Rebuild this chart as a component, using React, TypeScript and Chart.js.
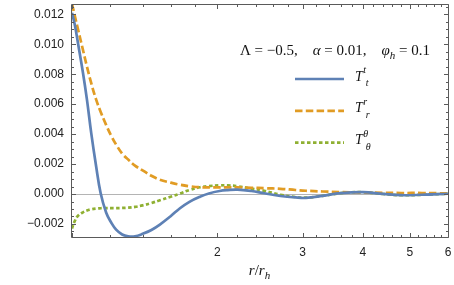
import React, { useEffect, useRef } from 'react';
import { Chart, registerables } from 'chart.js';

Chart.register(...registerables);

// ---- data ----
const rValues = [1.0, 1.0134, 1.029, 1.054, 1.074, 1.096, 1.122, 1.146, 1.177, 1.205, 1.234, 1.27, 1.307, 1.35, 1.4, 1.46, 1.52, 1.6, 1.673, 1.75, 1.84, 1.92, 2.02, 2.1, 2.2, 2.35, 2.5, 2.7, 2.9, 3.05, 3.3, 3.6, 4.0, 4.4, 4.8, 5.3, 6.0];
const ttValues = [0.0121, 0.0113, 0.01007, 0.00807, 0.00629, 0.00407, 0.00184, 0.00007, -0.00125, -0.0019, -0.00238, -0.0027, -0.00282, -0.00282, -0.00266, -0.0024, -0.00204, -0.00148, -0.00095, -0.00052, -0.00018, 0.00004, 0.0002, 0.00026, 0.00029, 0.0002, 0.00005, -0.00013, -0.00023, -0.00026, -0.00012, 0.00006, 0.00013, 0.00001, -0.00008, -0.00005, 0.00002];
const trrValues = [0.0127, 0.0119, 0.011, 0.0096, 0.0085, 0.0074, 0.0063, 0.0055, 0.0046, 0.0039, 0.0033, 0.0027, 0.0023, 0.0019, 0.00158, 0.00122, 0.00095, 0.00076, 0.00062, 0.00052, 0.00045, 0.00044, 0.00044, 0.00044, 0.00044, 0.00042, 0.00039, 0.00035, 0.00027, 0.00022, 0.00017, 0.00013, 0.0001, 0.00008, 0.00007, 0.00007, 0.00004];
const tthValues = [-0.0023, -0.0018, -0.00145, -0.00122, -0.0011, -0.00102, -0.00097, -0.00095, -0.00094, -0.00094, -0.00094, -0.00093, -0.00091, -0.00086, -0.00076, -0.0006, -0.00042, -0.00018, 0.00003, 0.00027, 0.00045, 0.00053, 0.00058, 0.00058, 0.00052, 0.00036, 0.00022, -0.00005, -0.0002, -0.00024, -0.00012, 0.00006, 0.00012, 0.0, -0.00008, -0.00005, 0.00002];

const seriesIndices = ['t', 'r', 'θ'];
const seriesColors = ['#5E81B5', '#E19C24', '#8FB032'];
const seriesDashes: number[][] = [[], [7.5, 3.3], [3.5, 2.5]];

const xTickLabels = [2, 3, 4, 5, 6];
const yTickValues = [-0.002, 0, 0.002, 0.004, 0.006, 0.008, 0.01, 0.012];
const X_MIN = 1;
const X_MAX = 6;
const Y_MIN = -0.00287;
const Y_MAX = 0.01269;

const GAP = '\u2002\u2002';
const paramParts = [
  { t: 'Λ', it: false },
  { t: ' = −0.5,' + GAP, it: false },
  { t: 'α', it: true },
  { t: ' = 0.01,' + GAP, it: false },
  { t: 'φ', it: true },
  { t: 'h', it: true, sub: true },
  { t: ' = 0.1', it: false },
];
const axisTitleParts = [
  { t: 'r', it: true },
  { t: '/', it: false },
  { t: 'r', it: true },
  { t: 'h', it: true, sub: true },
];

const FRAME = '#5a5a5a';
const SERIF = '"Liberation Serif", "DejaVu Serif", serif';

type Part = { t: string; it: boolean; sub?: boolean };

function drawParts(ctx: CanvasRenderingContext2D, parts: Part[], cx: number, y: number, size: number) {
  const fontFor = (p: Part) => `${p.it ? 'italic ' : ''}${p.sub ? Math.round(size * 0.7) : size}px ${SERIF}`;
  let total = 0;
  const widths = parts.map((p) => {
    ctx.font = fontFor(p);
    const w = ctx.measureText(p.t).width;
    total += w;
    return w;
  });
  let x = cx - total / 2;
  ctx.textAlign = 'left';
  ctx.textBaseline = 'alphabetic';
  parts.forEach((p, i) => {
    ctx.font = fontFor(p);
    ctx.fillText(p.t, x, y + (p.sub ? size * 0.25 : 0));
    x += widths[i];
  });
}

const framePlugin = {
  id: 'framePlugin',
  afterDraw(chart: any) {
    const { ctx, chartArea: a, scales } = chart;
    const xs = scales.x;
    const ys = scales.y;
    ctx.save();
    ctx.strokeStyle = FRAME;
    ctx.lineWidth = 1;
    const L = a.left - 0.5;
    const R = a.right + 0.5;
    const T = a.top + 0.5;
    const B = a.bottom + 0.5;
    ctx.beginPath();
    ctx.rect(L, T, R - L, B - T);
    ctx.stroke();
    ctx.beginPath();
    for (let k = 0; k <= 25; k++) {
      const v = X_MIN + k * 0.2;
      const major = Math.abs(v - Math.round(v)) < 1e-6;
      const len = major ? 4.5 : 2.5;
      const px = Math.round(xs.getPixelForValue(v)) + 0.5;
      ctx.moveTo(px, B);
      ctx.lineTo(px, B - len);
      ctx.moveTo(px, T);
      ctx.lineTo(px, T + len);
    }
    for (let k = -5; k <= 25; k++) {
      const v = k * 0.0005;
      if (v < Y_MIN || v > Y_MAX) continue;
      const major = k % 4 === 0;
      const len = major ? 4.5 : 2.5;
      const py = Math.round(ys.getPixelForValue(v)) + 0.5;
      ctx.moveTo(L, py);
      ctx.lineTo(L + len, py);
      ctx.moveTo(R, py);
      ctx.lineTo(R - len, py);
    }
    ctx.stroke();

    ctx.fillStyle = '#111';
    drawParts(ctx, paramParts, 335, 55, 15);

    const legendY = [79, 110.8, 142.6];
    chart.data.datasets.forEach((ds: any, i: number) => {
      const y = legendY[i];
      ctx.strokeStyle = ds.borderColor;
      ctx.lineWidth = ds.borderWidth;
      ctx.setLineDash(ds.borderDash || []);
      ctx.beginPath();
      ctx.moveTo(295, y);
      ctx.lineTo(344, y);
      ctx.stroke();
      ctx.setLineDash([]);
      ctx.fillStyle = '#111';
      ctx.textAlign = 'left';
      ctx.textBaseline = 'alphabetic';
      ctx.font = `italic 14px ${SERIF}`;
      const tx = 355;
      const ty = y + 1.5;
      ctx.fillText('T', tx, ty);
      const tw = ctx.measureText('T').width;
      ctx.font = `italic 10px ${SERIF}`;
      ctx.fillText(seriesIndices[i], tx + tw + 0.5, ty - 7.5);
      ctx.fillText(seriesIndices[i], tx + tw + 3, ty + 5.5);
    });

    ctx.fillStyle = '#111';
    drawParts(ctx, axisTitleParts, 259.5, 275, 15);
    ctx.restore();
  },
};

export default function App() {
  const ref = useRef<HTMLCanvasElement>(null);
  useEffect(() => {
    const makeData = (vals: number[]) => rValues.map((r, i) => ({ x: r, y: vals[i] }));
    const allSeries = [ttValues, trrValues, tthValues];
    const chart = new Chart(ref.current as HTMLCanvasElement, {
      type: 'line',
      data: {
        datasets: allSeries.map((vals, i) => ({
          label: 'T' + seriesIndices[i],
          data: makeData(vals),
          borderColor: seriesColors[i],
          borderWidth: 2.7,
          borderDash: seriesDashes[i],
          borderCapStyle: 'butt',
          pointRadius: 0,
          fill: false,
          tension: 0.4,
          clip: 0,
        })),
      } as any,
      options: {
        animation: false,
        responsive: false,
        devicePixelRatio: 1,
        layout: { padding: { top: 4, right: 6, left: 0, bottom: 0 } },
        plugins: { legend: { display: false }, tooltip: { enabled: false }, title: { display: false } },
        scales: {
          x: {
            type: 'logarithmic',
            min: X_MIN,
            max: X_MAX,
            grid: { display: false },
            border: { display: false },
            ticks: {
              font: { family: '"Liberation Sans", Arial, sans-serif', size: 12 },
              color: '#222',
              padding: 0,
              maxRotation: 0,
              autoSkip: false,
              callback: (v: any) => String(v),
            },
            afterBuildTicks: (scale: any) => {
              scale.ticks = xTickLabels.map((v) => ({ value: v }));
            },
            afterFit: (scale: any) => {
              scale.height = 48;
              scale.paddingLeft = 0;
              scale.paddingRight = 0;
            },
          },
          y: {
            type: 'linear',
            min: Y_MIN,
            max: Y_MAX,
            grid: {
              display: true,
              drawTicks: false,
              color: (c: any) => (c.tick && Math.abs(c.tick.value) < 1e-9 ? '#b4b4b4' : 'rgba(0,0,0,0)'),
              lineWidth: 1,
            },
            border: { display: false },
            ticks: {
              font: { family: '"Liberation Sans", Arial, sans-serif', size: 12 },
              color: '#222',
              padding: 8,
              autoSkip: false,
              callback: (v: any) => {
                const n = Number(v);
                const s = Math.abs(n).toFixed(3);
                return n < -1e-9 ? '\u2212' + s : s;
              },
            },
            afterBuildTicks: (scale: any) => {
              scale.ticks = yTickValues.map((v) => ({ value: v }));
            },
            afterFit: (scale: any) => {
              scale.width = 72;
              scale.paddingTop = 0;
              scale.paddingBottom = 0;
            },
          },
        },
      } as any,
      plugins: [framePlugin],
    });
    return () => chart.destroy();
  }, []);
  return (
    <div style={{ position: 'fixed', left: 0, top: 0, width: 454, height: 285, background: '#fff' }}>
      <canvas ref={ref} width={454} height={285} style={{ display: 'block', width: 454, height: 285 }} />
    </div>
  );
}
